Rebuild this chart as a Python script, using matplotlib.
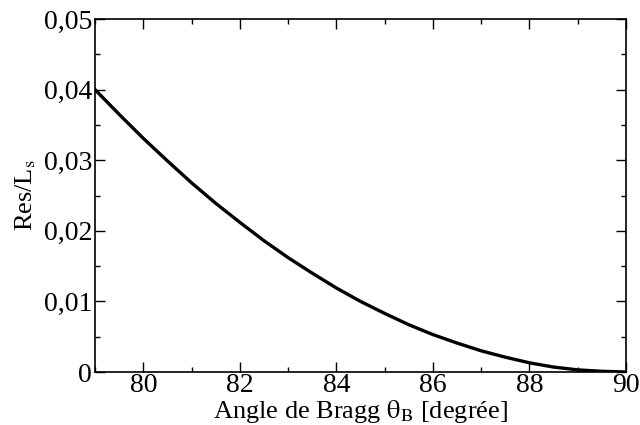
import numpy as np
import matplotlib
matplotlib.use("Agg")
import matplotlib.pyplot as plt
from matplotlib.ticker import MultipleLocator, FuncFormatter

# valeurs
angle = [79.0, 79.5, 80.0, 80.5, 81.0, 81.5, 82.0, 82.5, 83.0, 83.5, 84.0, 84.5,
         85.0, 85.5, 86.0, 86.5, 87.0, 87.5, 88.0, 88.5, 89.0, 89.5, 90.0]
res_ls = [0.0400, 0.0365, 0.0331, 0.0299, 0.0268, 0.0239, 0.0212, 0.0186, 0.0162,
          0.0140, 0.0119, 0.0100, 0.0083, 0.0067, 0.0053, 0.0041, 0.0030, 0.0021,
          0.0013, 0.0007, 0.0003, 0.0001, 0.0]

plt.rcParams['font.family'] = ['Liberation Serif', 'DejaVu Serif']
plt.rcParams['mathtext.fontset'] = 'stix'

fig = plt.figure(figsize=(6.4, 4.25), dpi=100)
ax = fig.add_axes([95 / 640, 1 - 372 / 425, (626 - 95) / 640, (372 - 19) / 425])

ax.plot(angle, res_ls, color='black', lw=2.4)

ax.set_xlim(79, 90)
ax.set_ylim(0, 0.05)
ax.xaxis.set_major_locator(MultipleLocator(2))
ax.xaxis.set_minor_locator(MultipleLocator(1))
ax.yaxis.set_major_locator(MultipleLocator(0.01))
ax.yaxis.set_minor_locator(MultipleLocator(0.005))


def virgule(v, pos):
    if abs(v) < 1e-9:
        return "0"
    return f"{v:.2f}".replace(".", ",")


ax.yaxis.set_major_formatter(FuncFormatter(virgule))
ax.tick_params(which='both', direction='in', top=True, right=True, labelsize=20, width=1)
ax.tick_params(axis='x', pad=1)
ax.tick_params(axis='y', pad=2)
ax.tick_params(which='major', length=7)
ax.tick_params(which='minor', length=3.5)
for s in ax.spines.values():
    s.set_linewidth(1.2)

ax.set_xlabel(r"Angle de Bragg $\mathrm{\theta}_\mathrm{B}$ [degrée]", fontsize=19, labelpad=0)
ax.set_ylabel(r"Res/L$_\mathrm{s}$", fontsize=19, labelpad=4)

fig.savefig("out.png", dpi=100)
